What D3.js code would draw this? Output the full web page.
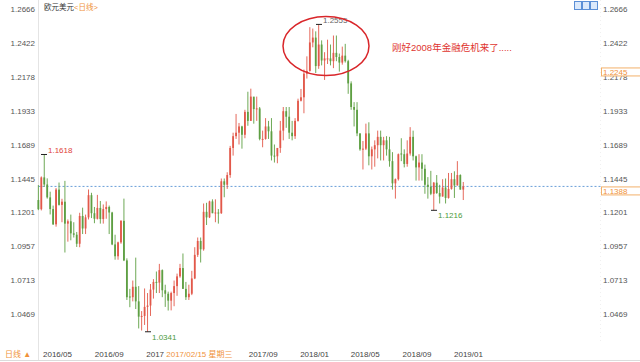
<!DOCTYPE html>
<html>
<head>
<meta charset="utf-8">
<script src="https://cdn.jsdelivr.net/npm/d3@7"></script>
<style>
  body { margin: 0; background: #fff; }
  svg { display: block; font-family: "Liberation Sans", Arial, "Noto Sans CJK SC", sans-serif; }
</style>
</head>
<body>
<svg id="chart"></svg>
<script>
// weekly EUR/USD candles, first week starts Mon 2016-04-18
const FIRST_WEEK = "2016-04-18"

const opens = [
  1.1290,1.1224,1.1453,1.1402,1.1309,1.1225,1.1115,1.1365,1.1255,1.1278,
  1.1120,1.1137,1.1050,1.1040,1.0975,1.1175,1.1085,1.1165,1.1325,1.1195,
  1.1155,1.1233,1.1153,1.1225,1.1240,1.1200,1.0970,1.0885,1.0985,1.1140,
  1.0855,1.0595,1.0590,1.0665,1.0560,1.0450,1.0455,1.0520,1.0530,1.0645,
  1.0700,1.0695,1.0785,1.0640,1.0615,1.0565,1.0620,1.0670,1.0740,1.0800,
  1.0650,1.0590,1.0615,1.0725,1.0895,1.0995,1.0935,1.1205,1.1165,1.1280,
  1.1195,1.1200,1.1195,1.1425,1.1400,1.1470,1.1665,1.1750,1.1775,1.1820,
  1.1760,1.1925,1.1860,1.2035,1.1945,1.1950,1.1725,1.1730,1.1820,1.1785,
  1.1610,1.1605,1.1665,1.1790,1.1930,1.1890,1.1775,1.1750,1.1860,1.2005,
  1.2030,1.2200,1.2220,1.2425,1.2460,1.2255,1.2410,1.2295,1.2305,1.2310,
  1.2290,1.2350,1.2320,1.2280,1.2330,1.2290,1.2130,1.1960,1.1940,1.1770,
  1.1655,1.1660,1.1770,1.1605,1.1655,1.1685,1.1745,1.1685,1.1720,1.1655,
  1.1570,1.1410,1.1440,1.1625,1.1620,1.1550,1.1625,1.1745,1.1605,1.1525,
  1.1560,1.1515,1.1400,1.1385,1.1335,1.1415,1.1340,1.1315,1.1380,1.1305,
  1.1370,1.1440,1.1395,1.1470,1.1365
]
const highs = [
  1.1398,1.1460,1.1618,1.1446,1.1350,1.1250,1.1376,1.1416,1.1299,1.1428,
  1.1150,1.1185,1.1130,1.1060,1.1198,1.1235,1.1185,1.1366,1.1342,1.1240,
  1.1327,1.1283,1.1258,1.1280,1.1250,1.1205,1.1040,1.0990,1.1145,1.1300,
  1.0870,1.0650,1.0710,1.0875,1.0670,1.0490,1.0653,1.0620,1.0685,1.0720,
  1.0775,1.0830,1.0790,1.0680,1.0630,1.0630,1.0710,1.0760,1.0830,1.0905,
  1.0700,1.0680,1.0780,1.0950,1.1020,1.1020,1.1265,1.1270,1.1285,1.1295,
  1.1295,1.1225,1.1445,1.1445,1.1490,1.1680,1.1775,1.1910,1.1845,1.1825,
  1.1940,1.2070,1.2092,1.2030,1.2035,1.1960,1.1790,1.1880,1.1860,1.1880,
  1.1690,1.1665,1.1860,1.1960,1.1960,1.1960,1.1860,1.1880,1.2020,1.2090,
  1.2230,1.2325,1.2535,1.2525,1.2505,1.2555,1.2440,1.2355,1.2445,1.2410,
  1.2475,1.2475,1.2345,1.2395,1.2415,1.2300,1.2145,1.1995,1.1995,1.1770,
  1.1715,1.1840,1.1850,1.1675,1.1720,1.1790,1.1790,1.1745,1.1750,1.1745,
  1.1635,1.1445,1.1625,1.1735,1.1655,1.1720,1.1815,1.1790,1.1610,1.1620,
  1.1620,1.1545,1.1455,1.1500,1.1420,1.1470,1.1400,1.1440,1.1445,1.1485,
  1.1485,1.1497,1.1570,1.1475,1.1420
]
const lows = [
  1.1217,1.1215,1.1385,1.1300,1.1186,1.1110,1.1098,1.1250,1.1130,1.0912,
  1.0990,1.1000,1.1020,1.0952,1.0950,1.1045,1.1045,1.1150,1.1160,1.1123,
  1.1150,1.1120,1.1120,1.1155,1.1045,1.0965,1.0860,1.0860,1.0975,1.0850,
  1.0570,1.0518,1.0560,1.0505,1.0365,1.0350,1.0390,1.0341,1.0455,1.0580,
  1.0620,1.0620,1.0590,1.0520,1.0494,1.0495,1.0525,1.0600,1.0730,1.0650,
  1.0570,1.0570,1.0605,1.0720,1.0880,1.0840,1.0925,1.1110,1.1160,1.1195,
  1.1130,1.1120,1.1190,1.1310,1.1370,1.1450,1.1610,1.1730,1.1690,1.1660,
  1.1735,1.1825,1.1860,1.1840,1.1860,1.1720,1.1670,1.1725,1.1730,1.1575,
  1.1560,1.1555,1.1630,1.1720,1.1810,1.1730,1.1720,1.1730,1.1855,1.2000,
  1.1915,1.2165,1.2215,1.2390,1.2205,1.2235,1.2260,1.2155,1.2270,1.2260,
  1.2240,1.2290,1.2215,1.2265,1.2280,1.2055,1.1940,1.1820,1.1750,1.1645,
  1.1510,1.1650,1.1540,1.1510,1.1530,1.1590,1.1575,1.1575,1.1610,1.1530,
  1.1365,1.1300,1.1430,1.1570,1.1525,1.1530,1.1610,1.1575,1.1430,1.1430,
  1.1430,1.1335,1.1300,1.1325,1.1216,1.1335,1.1265,1.1315,1.1265,1.1300,
  1.1365,1.1305,1.1395,1.1365,1.1290
]
const closes = [
  1.1224,1.1453,1.1402,1.1309,1.1225,1.1115,1.1365,1.1255,1.1278,1.1120,
  1.1137,1.1050,1.1040,1.0975,1.1175,1.1085,1.1165,1.1325,1.1195,1.1155,
  1.1233,1.1153,1.1225,1.1240,1.1200,1.0970,1.0885,1.0985,1.1140,1.0855,
  1.0590,1.0590,1.0665,1.0560,1.0450,1.0455,1.0520,1.0530,1.0645,1.0700,
  1.0695,1.0785,1.0640,1.0615,1.0565,1.0620,1.0670,1.0740,1.0800,1.0650,
  1.0590,1.0615,1.0725,1.0895,1.0995,1.0935,1.1205,1.1165,1.1280,1.1195,
  1.1200,1.1195,1.1425,1.1400,1.1470,1.1665,1.1750,1.1775,1.1820,1.1760,
  1.1925,1.1860,1.2035,1.1945,1.1950,1.1730,1.1730,1.1820,1.1785,1.1610,
  1.1605,1.1665,1.1790,1.1930,1.1890,1.1775,1.1750,1.1860,1.2005,1.2030,
  1.2200,1.2220,1.2425,1.2460,1.2255,1.2410,1.2295,1.2310,1.2310,1.2290,
  1.2350,1.2320,1.2280,1.2330,1.2290,1.2130,1.1960,1.1940,1.1770,1.1655,
  1.1660,1.1770,1.1605,1.1655,1.1685,1.1745,1.1685,1.1720,1.1655,1.1570,
  1.1410,1.1440,1.1620,1.1620,1.1550,1.1625,1.1745,1.1605,1.1525,1.1560,
  1.1515,1.1400,1.1385,1.1335,1.1415,1.1340,1.1315,1.1380,1.1305,1.1370,
  1.1440,1.1395,1.1470,1.1365,1.1388
]

const priceTicks = [1.2666, 1.2422, 1.2178, 1.1933, 1.1689, 1.1445, 1.1201, 1.0957, 1.0713, 1.0469]
const dateTicks = ["2016-05-01", "2016-09-01", "2017-01-01", "2017-09-01", "2018-01-01", "2018-05-01", "2018-09-01", "2019-01-01"]
const dateTickLabels = ["2016/05", "2016/09", "2017", "2017/09", "2018/01", "2018/05", "2018/09", "2019/01"]

const lastPrice = 1.1388
const markPrice = 1.2245
const cursorDate = "2017-02-15"
const cursorLabel = "2017/02/15 星期三"
const extremes = [
  { value: 1.1618, week: 2, side: "high", color: "#e0413a" },
  { value: 1.0341, week: 37, side: "low", color: "#4c9b3c" },
  { value: 1.2555, week: 95, side: "high", color: "#666" },
  { value: 1.1216, week: 134, side: "low", color: "#4c9b3c" }
]
const note = "刚好2008年金融危机来了....."

class CandleChart {

    constructor(_config, _data) {
        this.config = {
            parentElement: _config.parentElement,
            containerWidth: _config.containerWidth || 640,
            containerHeight: _config.containerHeight || 362,
            plot: { left: 38.5, right: 600.5, top: 0, bottom: 343 }
        }
        this.data = _data
        this.initVis()
    }

    initVis() {
        let vis = this
        const p = vis.config.plot

        vis.svg = d3.select(vis.config.parentElement)
            .attr('width', vis.config.containerWidth)
            .attr('height', vis.config.containerHeight)

        vis.xScale = d3.scaleTime()
            .domain([new Date(dateTicks[0]), new Date(dateTicks[dateTicks.length - 1])])
            .range([43, 454])

        vis.yScale = d3.scaleLinear()
            .domain([priceTicks[priceTicks.length - 1], priceTicks[0]])
            .range([314, 9])

        // frame lines
        vis.svg.append('line')
            .attr('x1', p.left).attr('x2', p.left)
            .attr('y1', 0).attr('y2', 360)
            .attr('stroke', '#e4e4e4')
        vis.svg.append('line')
            .attr('x1', p.right).attr('x2', p.right)
            .attr('y1', 0).attr('y2', 343)
            .attr('stroke', '#f0f0f0')
            .attr('stroke-dasharray', '1,3')
        vis.svg.append('line')
            .attr('x1', 0).attr('x2', 640)
            .attr('y1', 360.5).attr('y2', 360.5)
            .attr('stroke', '#dcdcdc')

        vis.chart = vis.svg.append('g')
        vis.labels = vis.svg.append('g')
    }

    updateVis() {
        let vis = this
        vis.xValue = d => d3.timeDay.offset(d.week, 2)
        vis.up = d => d.close >= d.open
        vis.renderVis()
    }

    renderVis() {
        let vis = this
        const p = vis.config.plot
        const fmt = d3.format('.4f')
        const RED = '#e2584a'
        const GREEN = '#5e9f43'

        // y axis labels, both sides
        vis.labels.selectAll('.ylab-l')
            .data(priceTicks)
            .join('text')
                .attr('class', 'ylab-l')
                .attr('x', 35)
                .attr('y', d => vis.yScale(d) + 3)
                .attr('text-anchor', 'end')
                .attr('font-size', 8)
                .attr('fill', '#555')
                .text(fmt)

        vis.labels.selectAll('.ylab-r')
            .data(priceTicks)
            .join('text')
                .attr('class', 'ylab-r')
                .attr('x', 603)
                .attr('y', d => vis.yScale(d) + 3)
                .attr('font-size', 8)
                .attr('fill', '#555')
                .text(fmt)

        // x axis labels
        vis.labels.selectAll('.xlab')
            .data(dateTicks)
            .join('text')
                .attr('class', 'xlab')
                .attr('x', d => vis.xScale(new Date(d)))
                .attr('y', 357)
                .attr('font-size', 8)
                .attr('fill', '#444')
                .text((d, i) => dateTickLabels[i])

        // last price dotted line
        vis.chart.append('line')
            .attr('x1', p.left).attr('x2', p.right)
            .attr('y1', vis.yScale(lastPrice)).attr('y2', vis.yScale(lastPrice))
            .attr('stroke', '#6a9fd8')
            .attr('stroke-dasharray', '2,2')

        // candles
        const candles = vis.chart.selectAll('.candle')
            .data(vis.data)
            .join('g')
                .attr('class', 'candle')
                .attr('transform', d => `translate(${vis.xScale(vis.xValue(d))}, 0)`)

        candles.append('line')
            .attr('y1', d => vis.yScale(d.high))
            .attr('y2', d => vis.yScale(d.low))
            .attr('stroke', d => vis.up(d) ? RED : GREEN)
            .attr('stroke-width', 0.9)

        candles.append('rect')
            .attr('x', -0.9)
            .attr('width', 1.8)
            .attr('y', d => vis.yScale(Math.max(d.open, d.close)))
            .attr('height', d => Math.max(1, Math.abs(vis.yScale(d.open) - vis.yScale(d.close))))
            .attr('fill', d => vis.up(d) ? RED : GREEN)

        // extreme markers
        extremes.forEach(e => {
            const x = Math.round(vis.xScale(vis.xValue(vis.data[e.week])))
            const y = vis.yScale(e.value)
            vis.labels.append('line')
                .attr('x1', x - 3).attr('x2', x + 3)
                .attr('y1', y).attr('y2', y)
                .attr('stroke', '#222')
            vis.labels.append('text')
                .attr('x', x + 4)
                .attr('y', e.side === 'high' ? y - 1 : y + 8)
                .attr('font-size', 8)
                .attr('fill', e.color)
                .text(fmt(e.value))
        })

        // price boxes on the right axis
        ;[markPrice, lastPrice].forEach(v => {
            const y = vis.yScale(v)
            vis.labels.append('rect')
                .attr('x', 601.5).attr('y', y + 0.5)
                .attr('width', 40).attr('height', 8)
                .attr('fill', '#fff')
                .attr('stroke', '#f3b06a')
            vis.labels.append('text')
                .attr('x', 603).attr('y', y + 7.5)
                .attr('font-size', 8)
                .attr('fill', '#f0923a')
                .text(fmt(v))
        })

        // cursor date label
        const cx = vis.xScale(new Date(cursorDate))
        vis.labels.append('rect')
            .attr('x', cx - 1).attr('y', 348)
            .attr('width', 72).attr('height', 11)
            .attr('fill', '#fff')
        vis.labels.append('text')
            .attr('x', cx + 1).attr('y', 357)
            .attr('font-size', 8)
            .attr('fill', '#f0923a')
            .text(cursorLabel)

        // title and period tag
        const title = vis.labels.append('text')
            .attr('x', 44).attr('y', 10)
            .attr('font-size', 7.5)
        title.append('tspan').attr('fill', '#333').text('欧元美元')
        title.append('tspan').attr('fill', '#f0923a').text('<日线>')

        vis.labels.append('text')
            .attr('x', 5).attr('y', 357)
            .attr('font-size', 8)
            .attr('fill', '#f0923a')
            .text('日线 ▲')

        // small toolbar buttons top right
        vis.labels.selectAll('.btn')
            .data([0, 1, 2])
            .join('rect')
                .attr('class', 'btn')
                .attr('x', d => 574.5 + d * 8)
                .attr('y', 1.5)
                .attr('width', 7).attr('height', 8)
                .attr('fill', '#dbe9fb')
                .attr('stroke', '#5b8fd6')

        // annotation
        vis.labels.append('ellipse')
            .attr('cx', 326).attr('cy', 46)
            .attr('rx', 43).attr('ry', 29.5)
            .attr('fill', 'none')
            .attr('stroke', '#d9262a')
            .attr('stroke-width', 1.5)
        vis.labels.append('text')
            .attr('x', 392).attr('y', 51)
            .attr('font-size', 9.5)
            .attr('fill', '#e0352f')
            .text(note)
    }
}

const first = new Date(FIRST_WEEK)
const data = closes.map((c, i) => ({
    week: d3.timeDay.offset(first, i * 7),
    open: opens[i],
    high: highs[i],
    low: lows[i],
    close: c
}))

const chart = new CandleChart({ parentElement: '#chart' }, data)
chart.updateVis()
</script>
</body>
</html>
